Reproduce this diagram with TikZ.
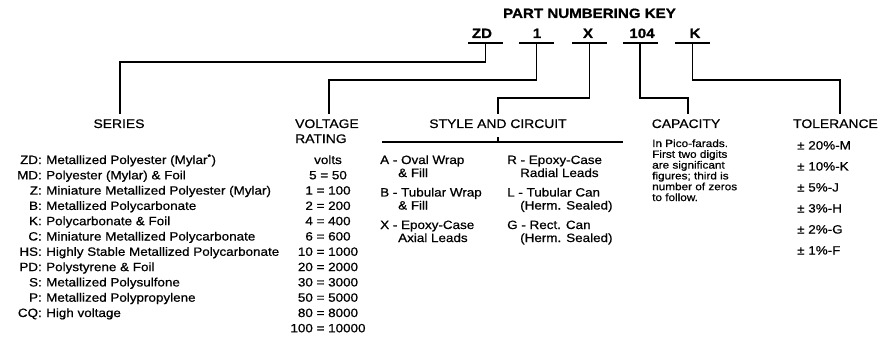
\documentclass[tikz,border=0pt]{standalone}
\usepackage{fontspec}
\setmainfont{Liberation Sans}[FakeStretch=1.12,FakeBold=0.7]
\begin{document}
\begin{tikzpicture}[x=1pt,y=-1pt,
  conn/.style={line width=1.7pt},
  titlest/.style={font=\fontsize{13.5}{14}\selectfont\bfseries, inner sep=0pt, anchor=base},
  codest/.style={font=\fontsize{13.5}{14}\selectfont\bfseries, inner sep=0pt, anchor=base},
  headst/.style={font=\fontsize{12.4}{13}\selectfont, inner sep=0pt, anchor=base},
  bodyst/.style={font=\fontsize{12}{13}\selectfont, inner sep=0pt, anchor=base west},
  capst/.style={font=\fontsize{10.5}{11}\selectfont, inner sep=0pt, anchor=base west}]
\useasboundingbox (0,0) rectangle (889,350);

% title and code letters
\node[titlest] (title) at (589.5,18) {PART NUMBERING KEY};
\node[codest] (cZD) at (482,38) {ZD};
\node[codest] (cV) at (537,38) {1};
\node[codest] (cX) at (588,38) {X};
\node[codest] (cC) at (642,38) {104};
\node[codest] (cK) at (695,38) {K};

\coordinate (u1) at (485.5,43);
\coordinate (u2) at (536.5,43);
\coordinate (u3) at (589.5,43);
\coordinate (u4) at (640,43);
\coordinate (u5) at (692.5,43);
\foreach \i in {1,...,5}
  \draw[conn] ([xshift=-17.5pt]u\i) -- ([xshift=17.5pt]u\i);

% headers
\node[headst] (series) at (119,128) {SERIES};
\node[headst, anchor=base west] (volt) at (295,128) {VOLTAGE};
\node[headst, anchor=base west] (rating) at (295,143) {RATING};
\node[headst] (style) at (498,128) {STYLE AND CIRCUIT};
\node[headst] (capacity) at (686,128) {CAPACITY};
\node[headst] (tolerance) at (835.5,128) {TOLERANCE};

% connectors
\coordinate (b1) at (120,62);
\coordinate (b2) at (329,80);
\coordinate (b3) at (498,98);
\coordinate (b4) at (688,98);
\coordinate (b5) at (840,80);
\draw[conn] (u1) |- (b1) -- ([yshift=5pt]b1 |- series.north);
\draw[conn] (u2) |- (b2) -- ([yshift=5pt]b2 |- volt.north);
\draw[conn] (u3) |- (b3) -- ([yshift=5pt]b3 |- style.north);
\draw[conn] (u4) |- (b4) -- ([yshift=5pt]b4 |- capacity.north);
\draw[conn] (u5) |- (b5) -- ([yshift=5pt]b5 |- tolerance.north);

% style rule
\coordinate (sl) at (382,142);
\coordinate (sr) at (623,142);
\coordinate (st) at (498,142);
\draw[conn] (sl) -- (sr);
\draw[line width=1.2pt] (st) -- ++(0,-5);

% series list
\foreach \c/\t [count=\i from 0] in {
  ZD/Metallized Polyester (Mylar\textsuperscript{*}),
  MD/Polyester (Mylar) \& Foil,
  Z/Miniature Metallized Polyester (Mylar),
  B/Metallized Polycarbonate,
  K/Polycarbonate \& Foil,
  C/Miniature Metallized Polycarbonate,
  HS/Highly Stable Metallized Polycarbonate,
  PD/Polystyrene \& Foil,
  S/Metallized Polysulfone,
  P/Metallized Polypropylene,
  CQ/High voltage} {
  \node[bodyst, anchor=base east] (sc\i) at (42,164+15.3*\i) {\c:};
  \node[bodyst] (sd\i) at (46,164+15.3*\i) {\t};
}

% voltage list
\foreach \t [count=\i from 0] in {volts, 5 = 50, 1 = 100, 2 = 200, 4 = 400, 6 = 600,
  10 = 1000, 20 = 2000, 30 = 3000, 50 = 5000, 80 = 8000, 100 = 10000} {
  \node[bodyst, anchor=base] (v\i) at (328,164+15.3*\i) {\t};
}

% style and circuit
\foreach \a/\b [count=\i from 0] in {A - Oval Wrap/\& Fill, B - Tubular Wrap/\& Fill, X - Epoxy-Case/Axial Leads} {
  \node[bodyst] (sa\i) at (380,164+32.5*\i) {\a};
  \node[bodyst] (sb\i) at (398,177+32.5*\i) {\b};
}
\foreach \a/\b [count=\i from 0] in {R - Epoxy-Case/Radial Leads, L - Tubular Can/(Herm. Sealed), G - Rect. Can/(Herm. Sealed)} {
  \node[bodyst] (ra\i) at (507,164+32.5*\i) {\a};
  \node[bodyst] (rb\i) at (520,177+32.5*\i) {\b};
}

% capacity
\foreach \t [count=\i from 0] in {In Pico-farads., First two digits, are significant,
  figures; third is, number of zeros, to follow.} {
  \node[capst] (k\i) at (652,147+10.8*\i) {\t};
}

% tolerance
\foreach \t [count=\i from 0] in {20\%-M, 10\%-K, 5\%-J, 3\%-H, 2\%-G, 1\%-F} {
  \node[bodyst] (t\i) at (797,149.5+21*\i) {± \t};
}
\end{tikzpicture}
\end{document}
